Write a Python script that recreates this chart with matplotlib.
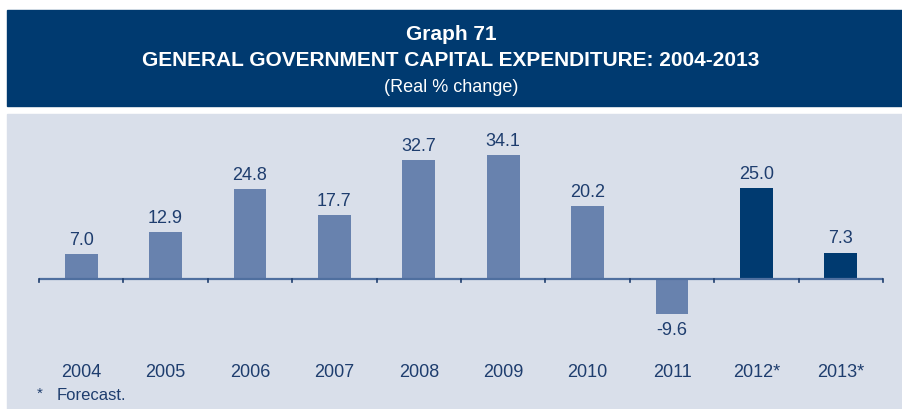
import matplotlib
matplotlib.use("Agg")
import matplotlib.pyplot as plt
from matplotlib.patches import Rectangle

# Data
years = ["2004", "2005", "2006", "2007", "2008", "2009", "2010", "2011", "2012*", "2013*"]
values = [7.0, 12.9, 24.8, 17.7, 32.7, 34.1, 20.2, -9.6, 25.0, 7.3]
forecast = [False] * 8 + [True, True]

title_line1 = "Graph 71"
title_line2 = "GENERAL GOVERNMENT CAPITAL EXPENDITURE: 2004-2013"
title_line3 = "(Real % change)"
footnote = "Forecast."

NAVY = "#003a70"
BAR_LIGHT = "#6882ae"
PANEL = "#d9dfea"
TEXT = "#1e3d6e"
AXIS = "#4f6f9f"

plt.rcParams["font.family"] = ["Liberation Sans Narrow", "Liberation Sans", "DejaVu Sans"]

W, H = 902, 410
fig = plt.figure(figsize=(W / 100, H / 100), dpi=100)
fig.patch.set_facecolor("white")

def px_rect(x0, y0, x1, y1, color):
    fig.patches.append(Rectangle((x0 / W, 1 - y1 / H), (x1 - x0) / W, (y1 - y0) / H,
                                 transform=fig.transFigure, color=color, zorder=0))

# Header band and chart panel
px_rect(7, 11, 902, 107, NAVY)
px_rect(7, 115, 902, 410, PANEL)

fig.text(0.5, 1 - 35 / H, title_line1, color="white", ha="center", va="center",
         fontsize=15, fontweight="bold")
fig.text(0.5, 1 - 61 / H, title_line2, color="white", ha="center", va="center",
         fontsize=15, fontweight="bold")
fig.text(0.5, 1 - 87 / H, title_line3, color="white", ha="center", va="center",
         fontsize=13)

# Plot area
ymin, ymax = -18, 38
pxu = 3.63
y_top = 280 - ymax * pxu
y_bot = 280 - ymin * pxu
ax = fig.add_axes([39 / W, 1 - y_bot / H, (883 - 39) / W, (y_bot - y_top) / H])
ax.set_zorder(2)
ax.set_facecolor("none")
ax.set_xlim(-0.5, len(years) - 0.5)
ax.set_ylim(ymin, ymax)
for s in ax.spines.values():
    s.set_visible(False)
ax.set_yticks([])
ax.set_xticks([])

xs = list(range(len(years)))
colors = [NAVY if f else BAR_LIGHT for f in forecast]
ax.bar(xs, values, width=0.39, color=colors, zorder=2)

ax.axhline(0, color=AXIS, lw=1.6, zorder=3)
for b in [i - 0.5 for i in range(len(years) + 1)]:
    ax.plot([b, b], [0, -0.8], color=TEXT, lw=1.2, zorder=3, clip_on=False)

for x, v in zip(xs, values):
    off = 4.0 if v >= 0 else -4.2
    ax.text(x, v + off, f"{v:.1f}", ha="center", va="center", color=TEXT, fontsize=13)

# Category labels below the plot area
for x, lab in zip(xs, years):
    fig.text((39 + (x + 0.5) * 84.4) / W, 1 - 373 / H, lab, ha="center", va="center",
             color=TEXT, fontsize=13)

fig.text(40 / W, 1 - 394 / H, "*", ha="center", va="center", color=TEXT, fontsize=11)
fig.text(57 / W, 1 - 396 / H, footnote, ha="left", va="center", color=TEXT, fontsize=12)

fig.savefig("out.png", dpi=100)
